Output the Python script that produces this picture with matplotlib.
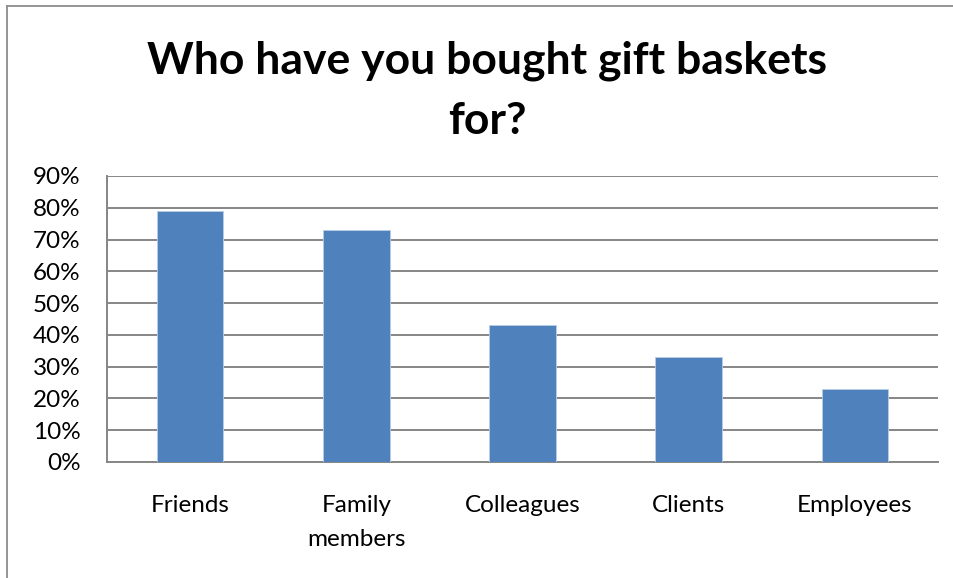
import matplotlib
matplotlib.use("Agg")
import matplotlib.pyplot as plt
from matplotlib.lines import Line2D
from matplotlib.ticker import PercentFormatter

categories = ["Friends", "Family\nmembers", "Colleagues", "Clients", "Employees"]
shares = [79, 73, 43, 33, 23]
y_ticks = [0, 10, 20, 30, 40, 50, 60, 70, 80, 90]
title = "Who have you bought gift baskets\nfor?"

W, H = 954, 578
fig = plt.figure(figsize=(W / 100, H / 100), dpi=100)
fig.patch.set_facecolor("white")

font = "Lato"
grid_col = "#868686"

ax = fig.add_axes([107 / W, 1 - 462 / H, (938 - 107) / W, (462 - 176) / H])
x = range(len(categories))
ax.bar(x, shares, width=0.4, color="#4F81BD", edgecolor="#B9CDE5",
       linewidth=0.6, zorder=3)

ax.set_xlim(-0.5, len(categories) - 0.5)
ax.set_ylim(0, 90)
ax.set_yticks(y_ticks)
ax.yaxis.set_major_formatter(PercentFormatter(decimals=0))
ax.set_xticks(list(x))
ax.set_xticklabels(categories, fontfamily=font, fontsize=17.5, linespacing=1.75)
for lab in ax.get_yticklabels():
    lab.set_fontfamily(font)
    lab.set_fontsize(17.5)
ax.tick_params(axis="y", length=0, pad=19, colors="black")
ax.tick_params(axis="x", length=0, pad=24, colors="black")
ax.grid(axis="y", color=grid_col, linewidth=1.4, zorder=0)
for side in ("top", "right"):
    ax.spines[side].set_visible(False)
for side in ("left", "bottom"):
    ax.spines[side].set_color(grid_col)
    ax.spines[side].set_linewidth(1.4)
ax.set_axisbelow(True)

# chart title
fig.text(487 / W, 1 - 91 / H, title, ha="center", va="center",
         fontfamily=font, fontweight="bold", fontsize=32, linespacing=1.6)

# outer chart frame (top and left edges)
fig.add_artist(Line2D([7 / W, 1], [1 - 5.5 / H] * 2, transform=fig.transFigure,
                      color="#8C8C8C", linewidth=1.3))
fig.add_artist(Line2D([7 / W] * 2, [0, 1 - 5.5 / H], transform=fig.transFigure,
                      color="#8C8C8C", linewidth=1.3))

fig.savefig("out.png", dpi=100, facecolor="white")
